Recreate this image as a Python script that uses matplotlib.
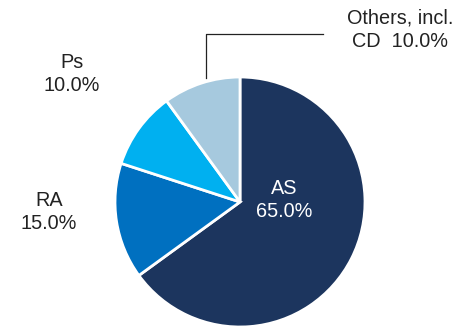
import matplotlib
matplotlib.use("Agg")
import matplotlib.pyplot as plt

# Datos del gráfico
segmentos = ["AS", "RA", "Ps", "Others, incl.\nCD"]
porcentajes = [65.0, 15.0, 10.0, 10.0]
colores = ["#1c355e", "#0070c0", "#00b0f0", "#a6c9de"]

plt.rcParams["font.family"] = ["Liberation Sans", "DejaVu Sans"]

W, H = 457, 328
fig = plt.figure(figsize=(W / 100, H / 100), dpi=100)

# Ejes cuadrados para el pastel (centro ~ (240, 202) px, radio ~125 px)
cx, cy, r = 240, 202, 125
ax = fig.add_axes([(cx - r) / W, (H - cy - r) / H, 2 * r / W, 2 * r / H])
ax.pie(porcentajes, colors=colores, startangle=90, counterclock=False,
       wedgeprops=dict(edgecolor="white", linewidth=2))
ax.set_xlim(-1, 1)
ax.set_ylim(-1, 1)
ax.axis("off")


def px(x, y):
    return x / W, 1 - y / H


# Etiquetas
etiquetas = [f"{s}\n{p:.1f}%" for s, p in zip(segmentos[:3], porcentajes[:3])]
posiciones = [(284, 200), (49, 212), (72, 74)]
color_txt = ["white", "#222222", "#222222"]
for txt, (x, y), c in zip(etiquetas, posiciones, color_txt):
    fig.text(*px(x, y), txt, ha="center", va="center", fontsize=14.3,
             color=c, linespacing=1.27)

fig.text(*px(400, 30), "Others, incl.\nCD  %.1f%%" % porcentajes[3],
         ha="center", va="center", fontsize=14.3, color="#222222",
         linespacing=1.27)

# Línea guía para "Others"
fig.add_artist(plt.Line2D([206 / W, 206 / W, 323 / W],
                          [1 - 78 / H, 1 - 34 / H, 1 - 34 / H],
                          color="#222222", linewidth=0.9))

fig.savefig("out.png", dpi=100)
